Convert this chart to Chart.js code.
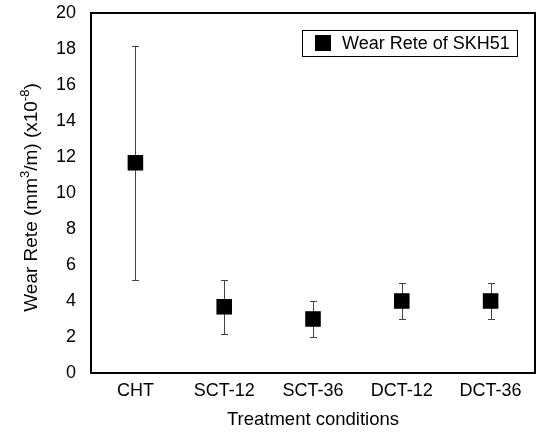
<!DOCTYPE html>
<html>
<head>
<meta charset="utf-8">
<script src="https://cdn.jsdelivr.net/npm/chart.js@4/dist/chart.umd.min.js"></script>
<style>
html,body{margin:0;padding:0;background:#fff;}
#wrap{width:539px;height:432px;position:relative;}
</style>
</head>
<body>
<div id="wrap"><canvas id="c" width="539" height="432"></canvas></div>
<script>
const categories = ["CHT", "SCT-12", "SCT-36", "DCT-12", "DCT-36"];
const wearRate = [11.68, 3.68, 3.0, 4.0, 4.0];
const errUpper = [18.18, 5.17, 4.0, 5.0, 5.0];
const errLower = [5.17, 2.17, 2.0, 3.0, 3.0];
const yTicks = [0, 2, 4, 6, 8, 10, 12, 14, 16, 18, 20];
const seriesName = "Wear Rete of SKH51";
const xTitle = "Treatment conditions";

const FONT = "Liberation Sans, Arial, sans-serif";

const errorBars = {
  id: 'errorBars',
  beforeDatasetsDraw(chart) {
    const ctx = chart.ctx, xs = chart.scales.x, ys = chart.scales.y;
    ctx.save();
    ctx.strokeStyle = '#444';
    ctx.lineWidth = 1;
    categories.forEach((c, i) => {
      const x = Math.round(xs.getPixelForValue(i)) + 0.5;
      const yt = ys.getPixelForValue(errUpper[i]);
      const yb = ys.getPixelForValue(errLower[i]);
      ctx.beginPath();
      ctx.moveTo(x, yt); ctx.lineTo(x, yb);
      ctx.moveTo(x - 3.5, Math.round(yt) + 0.5); ctx.lineTo(x + 3.5, Math.round(yt) + 0.5);
      ctx.moveTo(x - 3.5, Math.round(yb) + 0.5); ctx.lineTo(x + 3.5, Math.round(yb) + 0.5);
      ctx.stroke();
    });
    ctx.restore();
  }
};

const decor = {
  id: 'decor',
  afterDraw(chart) {
    const ctx = chart.ctx, a = chart.chartArea;
    ctx.save();
    // frame
    ctx.strokeStyle = '#000';
    ctx.lineWidth = 2;
    ctx.strokeRect(a.left, a.top, a.right - a.left, a.bottom - a.top);
    // legend
    ctx.lineWidth = 1;
    ctx.strokeRect(302.5, 30.5, 215, 26);
    ctx.fillStyle = '#000';
    ctx.fillRect(315, 35, 16, 16);
    ctx.font = '18px ' + FONT;
    ctx.textBaseline = 'middle';
    ctx.textAlign = 'left';
    ctx.fillText(seriesName, 342, 44);
    // x title
    ctx.font = '18.5px ' + FONT;
    ctx.textAlign = 'center';
    ctx.fillText(xTitle, (a.left + a.right) / 2, 420);
    // y title with superscripts
    const parts = [
      ["Wear Rete (mm", false], ["3", true], ["/m) (x10", false], ["-8", true], [")", false]
    ];
    const fN = '19px ' + FONT, fS = '13px ' + FONT;
    let total = 0;
    parts.forEach(p => { ctx.font = p[1] ? fS : fN; total += ctx.measureText(p[0]).width; });
    ctx.translate(37, 197.5);
    ctx.rotate(-Math.PI / 2);
    ctx.textAlign = 'left';
    ctx.textBaseline = 'alphabetic';
    let u = -total / 2;
    parts.forEach(p => {
      ctx.font = p[1] ? fS : fN;
      ctx.fillText(p[0], u, p[1] ? -8 : 0);
      u += ctx.measureText(p[0]).width;
    });
    ctx.restore();
  }
};

new Chart(document.getElementById('c'), {
  type: 'line',
  data: {
    labels: categories,
    datasets: [{
      label: seriesName,
      data: wearRate,
      showLine: false,
      clip: false,
      pointStyle: 'rect',
      pointRadius: 11,
      pointHoverRadius: 11,
      pointBackgroundColor: '#000',
      pointBorderColor: '#000',
      pointBorderWidth: 0
    }]
  },
  options: {
    responsive: false,
    animation: false,
    events: [],
    layout: { autoPadding: false, padding: { top: 13, right: 4, left: 0, bottom: 0 } },
    plugins: { legend: { display: false }, tooltip: { enabled: false } },
    scales: {
      x: {
        type: 'category',
        offset: true,
        grid: { display: false, drawTicks: false },
        border: { display: false },
        ticks: { color: '#000', font: { family: FONT, size: 18 }, padding: 7, maxRotation: 0, autoSkip: false },
        afterFit(s) { s.height = 59; s.paddingLeft = 0; s.paddingRight = 0; }
      },
      y: {
        min: 0, max: 20,
        grid: { display: false, drawTicks: false },
        border: { display: false },
        afterBuildTicks(s) { s.ticks = yTicks.map(v => ({ value: v })); },
        ticks: { color: '#000', font: { family: FONT, size: 18 }, padding: 15 },
        afterFit(s) { s.width = 91; s.paddingTop = 0; s.paddingBottom = 0; }
      }
    }
  },
  plugins: [errorBars, decor]
});
</script>
</body>
</html>
